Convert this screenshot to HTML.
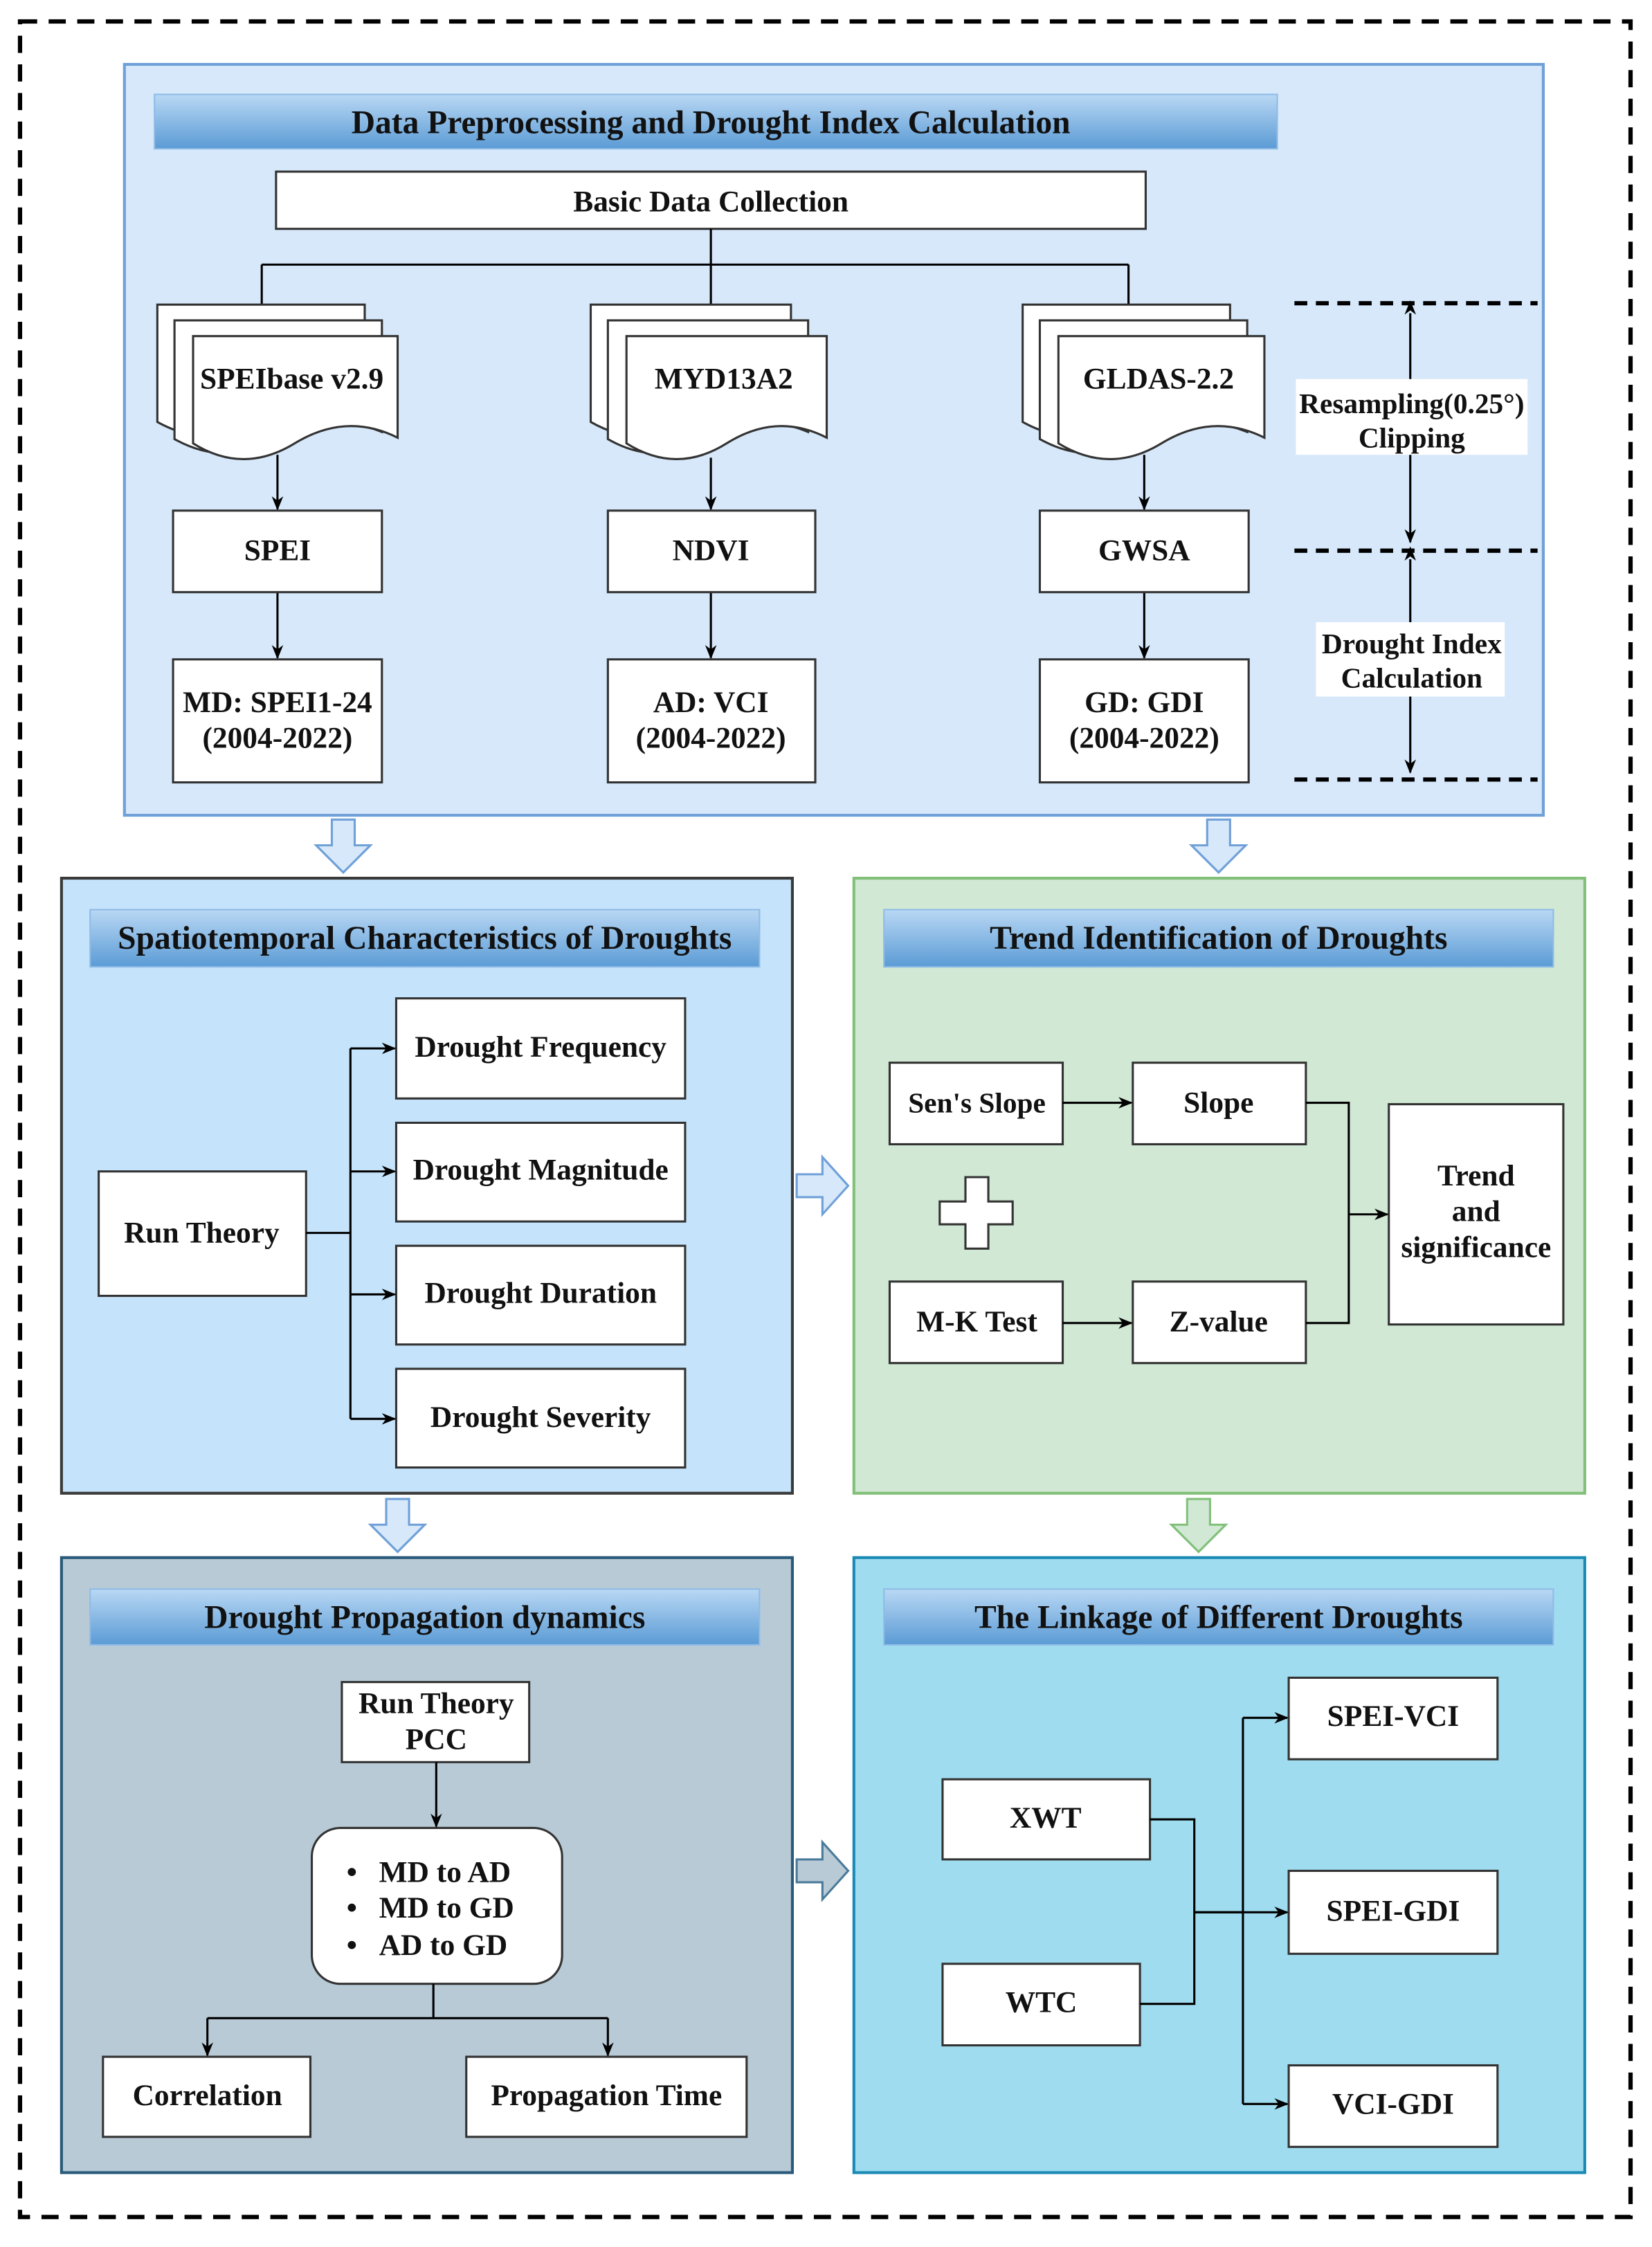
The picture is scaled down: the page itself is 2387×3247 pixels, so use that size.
<!DOCTYPE html>
<html><head><meta charset="utf-8">
<style>html,body{margin:0;padding:0;background:#fff}svg{display:block}
text{font-family:"Liberation Serif",serif;font-weight:bold;fill:#111;text-anchor:middle;dominant-baseline:central}</style></head>
<body>
<svg width="2387" height="3247" viewBox="0 0 1155 1571" preserveAspectRatio="none" xmlns="http://www.w3.org/2000/svg">
<defs>
<linearGradient id="tb" x1="0" y1="0" x2="0" y2="1"><stop offset="0" stop-color="#b9d8f4"/><stop offset="1" stop-color="#5b9bd5"/></linearGradient>
<marker id="ah" markerWidth="10" markerHeight="10" refX="9" refY="5" orient="auto" markerUnits="userSpaceOnUse"><path d="M0,1 L10,5 L0,9 L3,5 Z" fill="#000"/></marker>
<marker id="ah2" markerWidth="10" markerHeight="10" refX="1" refY="5" orient="auto-start-reverse" markerUnits="userSpaceOnUse"><path d="M0,1 L10,5 L0,9 L3,5 Z" fill="#000"/></marker>
</defs>
<rect x="14" y="15" width="1126" height="1535" fill="none" stroke="#000" stroke-width="3" stroke-dasharray="12,8"/>

<rect x="87" y="45" width="992" height="525" fill="#d6e8fa" stroke="#6fa0d8" stroke-width="2"/>
<rect x="108" y="66" width="785" height="38" fill="url(#tb)" stroke="#8fbbe6"/>
<text x="497" y="86" font-size="23">Data Preprocessing and Drought Index Calculation</text>
<rect x="193" y="120" width="608" height="40" fill="#fff" stroke="#333" stroke-width="1.5"/>
<text x="497" y="141" font-size="21">Basic Data Collection</text>
<g stroke="#000" stroke-width="1.5" fill="none">
<path d="M497 160 V185 M183 185 H789 M183 185 V213 M497 185 V213 M789 185 V213"/>
</g>
<g stroke="#333" stroke-width="1.5" fill="#fff">
<g>
<path d="M110 213 H255 V290 Q218 275 182 295 Q146 315 110 295 Z"/>
<path d="M122 224 H267 V302 Q230 287 194 307 Q158 327 122 307 Z"/>
<path d="M135 235 H278 V306 Q242 288 206 310 Q170 332 135 310 Z"/>
</g>
<g transform="translate(303,0)">
<path d="M110 213 H250 V290 Q215 275 180 295 Q145 315 110 295 Z"/>
<path d="M122 224 H262 V302 Q227 287 192 307 Q157 327 122 307 Z"/>
<path d="M135 235 H275 V306 Q240 288 205 310 Q170 332 135 310 Z"/>
</g>
<g transform="translate(605,0)">
<path d="M110 213 H255 V290 Q218 275 182 295 Q146 315 110 295 Z"/>
<path d="M122 224 H267 V302 Q230 287 194 307 Q158 327 122 307 Z"/>
<path d="M135 235 H279 V306 Q243 288 207 310 Q171 332 135 310 Z"/>
</g>
</g>
<text x="204" y="265" font-size="21">SPEIbase v2.9</text>
<text x="506" y="265" font-size="21">MYD13A2</text>
<text x="810" y="265" font-size="21">GLDAS-2.2</text>
<g stroke="#000" stroke-width="1.5" fill="none" marker-end="url(#ah)">
<path d="M194 318 V356"/><path d="M497 320 V356"/><path d="M800 318 V356"/>
<path d="M194 414 V460"/><path d="M497 414 V460"/><path d="M800 414 V460"/>
</g>
<g stroke="#333" stroke-width="1.5" fill="#fff">
<rect x="121" y="357" width="146" height="57"/><rect x="425" y="357" width="145" height="57"/><rect x="727" y="357" width="146" height="57"/>
<rect x="121" y="461" width="146" height="86"/><rect x="425" y="461" width="145" height="86"/><rect x="727" y="461" width="146" height="86"/>
</g>
<text x="194" y="385" font-size="21">SPEI</text><text x="497" y="385" font-size="21">NDVI</text><text x="800" y="385" font-size="21">GWSA</text>
<text x="194" y="491" font-size="21">MD: SPEI1-24</text><text x="194" y="516" font-size="21">(2004-2022)</text>
<text x="497" y="491" font-size="21">AD: VCI</text><text x="497" y="516" font-size="21">(2004-2022)</text>
<text x="800" y="491" font-size="21">GD: GDI</text><text x="800" y="516" font-size="21">(2004-2022)</text>
<g stroke="#000" stroke-width="3" stroke-dasharray="9,6"><path d="M905 212 H1075 M905 385 H1075 M905 545 H1075"/></g>
<g stroke="#000" stroke-width="1.5" marker-end="url(#ah)" marker-start="url(#ah2)"><path d="M986 219 V379"/><path d="M986 391 V540"/></g>
<rect x="906" y="265" width="162" height="53" fill="#fff"/>
<text x="987" y="282" font-size="20">Resampling(0.25°)</text><text x="987" y="306" font-size="20">Clipping</text>
<rect x="920" y="435" width="132" height="52" fill="#fff"/>
<text x="987" y="450" font-size="20">Drought Index</text><text x="987" y="474" font-size="20">Calculation</text>

<g stroke="#6fa0d8" stroke-width="1.5" fill="#d6e8fa">
<path d="M232 573 H248 V591 H259 L240 610 L221 591 H232 Z"/>
<path d="M844 573 H860 V591 H871 L852 610 L833 591 H844 Z"/>
<path d="M270 1048 H286 V1066 H297 L278 1085 L259 1066 H270 Z"/>
</g>
<path d="M830 1048 H846 V1066 H857 L838 1085 L819 1066 H830 Z" stroke="#82c07a" stroke-width="1.5" fill="#d0e8d4"/>
<path d="M557 821 H575 V809 L593 829 L575 849 V837 H557 Z" stroke="#6fa0d8" stroke-width="1.5" fill="#d6e8fa"/>
<path d="M557 1300 H575 V1288 L593 1308 L575 1328 V1316 H557 Z" stroke="#4a7a9a" stroke-width="1.5" fill="#b8cad6"/>

<rect x="43" y="614" width="511" height="430" fill="#c5e3fb" stroke="#3a3a3a" stroke-width="2"/>
<rect x="63" y="636" width="468" height="40" fill="url(#tb)" stroke="#8fbbe6"/>
<text x="297" y="656" font-size="23">Spatiotemporal Characteristics of Droughts</text>
<g stroke="#333" stroke-width="1.5" fill="#fff">
<rect x="69" y="819" width="145" height="87"/>
<rect x="277" y="698" width="202" height="70"/><rect x="277" y="785" width="202" height="69"/>
<rect x="277" y="871" width="202" height="69"/><rect x="277" y="957" width="202" height="69"/>
</g>
<g stroke="#000" stroke-width="1.5" fill="none"><path d="M214 862 H245 M245 733 V992"/></g>
<g stroke="#000" stroke-width="1.5" fill="none" marker-end="url(#ah)">
<path d="M245 733 H276"/><path d="M245 819 H276"/><path d="M245 905 H276"/><path d="M245 992 H276"/></g>
<text x="141" y="862" font-size="21">Run Theory</text>
<text x="378" y="732" font-size="21">Drought Frequency</text><text x="378" y="818" font-size="21">Drought Magnitude</text>
<text x="378" y="904" font-size="21">Drought Duration</text><text x="378" y="991" font-size="21">Drought Severity</text>

<rect x="597" y="614" width="511" height="430" fill="#d0e8d4" stroke="#82c07a" stroke-width="2"/>
<rect x="618" y="636" width="468" height="40" fill="url(#tb)" stroke="#8fbbe6"/>
<text x="852" y="656" font-size="23">Trend Identification of Droughts</text>
<g stroke="#333" stroke-width="1.5" fill="#fff">
<rect x="622" y="743" width="121" height="57"/><rect x="792" y="743" width="121" height="57"/>
<rect x="622" y="896" width="121" height="57"/><rect x="792" y="896" width="121" height="57"/>
<rect x="971" y="772" width="122" height="154"/>
<path d="M675 823 H691 V840 H708 V856 H691 V873 H675 V856 H657 V840 H675 Z"/>
</g>
<g stroke="#000" stroke-width="1.5" fill="none"><path d="M913 771 H943 V925 H913"/></g>
<g stroke="#000" stroke-width="1.5" fill="none" marker-end="url(#ah)">
<path d="M743 771 H791"/><path d="M743 925 H791"/><path d="M943 849 H970"/></g>
<text x="683" y="771" font-size="20">Sen's Slope</text><text x="852" y="771" font-size="21">Slope</text>
<text x="683" y="924" font-size="21">M-K Test</text><text x="852" y="924" font-size="21">Z-value</text>
<text x="1032" y="822" font-size="21">Trend</text><text x="1032" y="847" font-size="21">and</text><text x="1032" y="872" font-size="21">significance</text>

<rect x="43" y="1089" width="511" height="430" fill="#b8cad6" stroke="#2a5a7a" stroke-width="2"/>
<rect x="63" y="1111" width="468" height="39" fill="url(#tb)" stroke="#8fbbe6"/>
<text x="297" y="1131" font-size="23">Drought Propagation dynamics</text>
<g stroke="#333" stroke-width="1.5" fill="#fff">
<rect x="239" y="1176" width="131" height="56"/>
<rect x="218" y="1278" width="175" height="109" rx="20"/>
<rect x="72" y="1438" width="145" height="56"/><rect x="326" y="1438" width="196" height="56"/>
</g>
<g stroke="#000" stroke-width="1.5" fill="none"><path d="M303 1387 V1411 M145 1411 H425"/></g>
<g stroke="#000" stroke-width="1.5" fill="none" marker-end="url(#ah)">
<path d="M305 1232 V1277"/><path d="M145 1411 V1437"/><path d="M425 1411 V1437"/></g>
<text x="305" y="1191" font-size="21">Run Theory</text><text x="305" y="1216" font-size="21">PCC</text>
<g font-size="21"><text x="246" y="1309">•</text><text x="246" y="1334">•</text><text x="246" y="1360">•</text></g>
<text x="265" y="1309" font-size="21" style="text-anchor:start">MD to AD</text>
<text x="265" y="1334" font-size="21" style="text-anchor:start">MD to GD</text>
<text x="265" y="1360" font-size="21" style="text-anchor:start">AD  to GD</text>
<text x="145" y="1465" font-size="21">Correlation</text><text x="424" y="1465" font-size="21">Propagation Time</text>

<rect x="597" y="1089" width="511" height="430" fill="#a0dcef" stroke="#1a8ab5" stroke-width="2"/>
<rect x="618" y="1111" width="468" height="39" fill="url(#tb)" stroke="#8fbbe6"/>
<text x="852" y="1131" font-size="23">The Linkage of Different Droughts</text>
<g stroke="#333" stroke-width="1.5" fill="#fff">
<rect x="659" y="1244" width="145" height="56"/><rect x="659" y="1373" width="138" height="57"/>
<rect x="901" y="1173" width="146" height="57"/><rect x="901" y="1308" width="146" height="58"/><rect x="901" y="1444" width="146" height="57"/>
</g>
<g stroke="#000" stroke-width="1.5" fill="none"><path d="M804 1272 H835 V1401 H797 M835 1337 H869 M869 1201 V1471"/></g>
<g stroke="#000" stroke-width="1.5" fill="none" marker-end="url(#ah)">
<path d="M869 1201 H900"/><path d="M835 1337 H900"/><path d="M869 1471 H900"/></g>
<text x="731" y="1271" font-size="21">XWT</text><text x="728" y="1400" font-size="21">WTC</text>
<text x="974" y="1200" font-size="21">SPEI-VCI</text><text x="974" y="1336" font-size="21">SPEI-GDI</text><text x="974" y="1471" font-size="21">VCI-GDI</text>
</svg>
</body></html>
